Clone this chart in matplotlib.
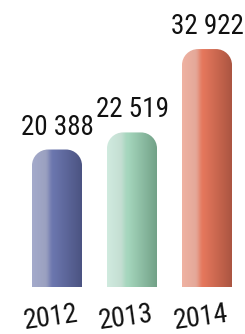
import numpy as np
import matplotlib
matplotlib.use("Agg")
import matplotlib.pyplot as plt
from matplotlib.path import Path
from matplotlib.patches import PathPatch
from matplotlib.colors import to_rgb

years = ["2012", "2013", "2014"]
values = [20388, 22519, 32922]
value_labels = ["20 388", "22 519", "32 922"]
gradients = [
    ["#a4aacb", "#6b76ae", "#4a5280"],
    ["#d0ebdf", "#a5d6bd", "#72a187"],
    ["#f0b2a2", "#e5775c", "#a95440"],
]

plt.rcParams['font.family'] = ['Roboto Condensed', 'Liberation Sans Narrow', 'Roboto', 'DejaVu Sans']

fig = plt.figure(figsize=(2.45, 3.34), dpi=100)
ax = fig.add_axes([0, 47/334, 1, 287/334])
ax.axis('off')

base = 3232
px_per_unit = 0.008014
x_spacing = 75.0
xlim = (-57/x_spacing, (245-57)/x_spacing)
ylim = (base, base + 287/px_per_unit)
width = 50/x_spacing
rx = 16/x_spacing
ry = 16/px_per_unit
k = 0.5523

def make_grad(cols, n=200):
    c0, c1, c2 = [np.array(to_rgb(c)) for c in cols]
    t = np.linspace(0, 1, n)
    img = np.zeros((2, n, 3))
    for i, tt in enumerate(t):
        if tt < 0.25:
            c = c0 + (c0*0.95 - c0) * (tt/0.25)
        elif tt < 0.42:
            s = (tt-0.25)/0.17
            s = s*s*(3-2*s)
            c = c0*0.95*(1-s) + c1*s
        else:
            s = (tt-0.42)/0.58
            c = c1*(1-s) + c2*s
        img[:, i, :] = c
    return np.clip(img, 0, 1)

for i, (v, cols) in enumerate(zip(values, gradients)):
    x0 = i - width/2
    x1 = i + width/2
    verts = [
        (x0, base),
        (x0, v - ry),
        (x0, v - ry + k*ry), (x0 + rx - k*rx, v), (x0 + rx, v),
        (x1 - rx, v),
        (x1 - rx + k*rx, v), (x1, v - ry + k*ry), (x1, v - ry),
        (x1, base),
        (x0, base),
    ]
    codes = [Path.MOVETO, Path.LINETO,
             Path.CURVE4, Path.CURVE4, Path.CURVE4,
             Path.LINETO,
             Path.CURVE4, Path.CURVE4, Path.CURVE4,
             Path.LINETO, Path.CLOSEPOLY]
    patch = PathPatch(Path(verts, codes), facecolor='none', edgecolor='none')
    ax.add_patch(patch)
    im = ax.imshow(make_grad(cols), extent=[x0, x1, base, v], aspect='auto',
                   interpolation='bilinear', zorder=2)
    im.set_clip_path(patch)
    ax.annotate(value_labels[i], xy=(i, v), xytext=(0, 15), textcoords='offset pixels',
                ha='center', va='baseline', fontsize=19.5, color='#111111')
    ax.annotate(years[i], xy=(i, base), xytext=(-6, -31), textcoords='offset pixels',
                ha='center', va='center', fontsize=20, color='#111111', rotation=8,
                annotation_clip=False)

ax.set_xlim(*xlim)
ax.set_ylim(*ylim)
fig.savefig("out.png", dpi=100)
